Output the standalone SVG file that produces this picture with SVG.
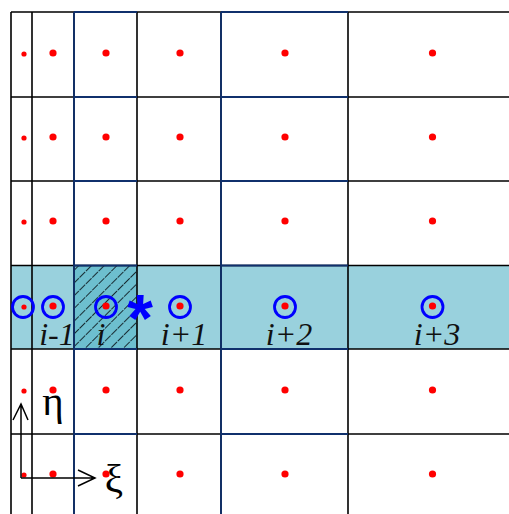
<svg xmlns="http://www.w3.org/2000/svg" width="509" height="514" viewBox="0 0 509 514">
<style>
.g{stroke:#000;stroke-width:1.6;fill:none}
.n{stroke:#10306c;stroke-width:1.8;fill:none}
.d{fill:#ff0000}
.c{fill:none;stroke:#0000ff;stroke-width:2.8}
.lbl{font-family:"Liberation Serif",serif;font-style:italic;font-size:32px;fill:#111;text-anchor:middle}
.gr{font-family:"Liberation Serif",serif;font-size:41px;fill:#000;text-anchor:middle}
.ax{stroke:#000;stroke-width:1.5;fill:none}
</style>
<defs>
<pattern id="hatch" patternUnits="userSpaceOnUse" width="9" height="9" patternTransform="rotate(45)">
<line x1="0" y1="0" x2="0" y2="9" stroke="#0a1418" stroke-width="1.7" stroke-dasharray="5 1"/>
</pattern>
</defs>
<rect width="509" height="514" fill="#fff"/>
<g id="band">
<rect x="11" y="265.5" width="498" height="83.5" fill="#99d1dd"/>
</g>
<g id="hatched-cell">
<rect x="74" y="265.5" width="63" height="83.5" fill="#6dbfcf"/>
<rect x="74" y="265.5" width="63" height="83.5" fill="url(#hatch)"/>
</g>
<g id="grid">
<path class="g" d="M11 12V514M32 12V514M74 12V514M137 12V514M221 12V514M348 12V514"/>
<path class="g" d="M11 12H509M11 97H509M11 181H509M11 265.5H509M11 349H509M11 434H509"/>
<path class="n" d="M74 12V514M221 12V514"/>
<path class="n" d="M74 12H137M221 12H348M74 97H137M221 97H348M74 181H137M221 181H348M74 265.5H137M221 265.5H348M74 349H137M221 349H348M74 434H137M221 434H348"/>
</g>
<g id="cell-centers">
<circle class="d" cx="24" cy="54" r="2.6"/><circle class="d" cx="53" cy="53" r="3.6"/><circle class="d" cx="106" cy="53" r="3.6"/><circle class="d" cx="180" cy="53" r="3.6"/><circle class="d" cx="285" cy="53" r="3.6"/><circle class="d" cx="432.5" cy="53" r="3.6"/>
<circle class="d" cx="24" cy="138" r="2.6"/><circle class="d" cx="53" cy="137" r="3.6"/><circle class="d" cx="106" cy="137" r="3.6"/><circle class="d" cx="180" cy="137" r="3.6"/><circle class="d" cx="285" cy="137" r="3.6"/><circle class="d" cx="432.5" cy="137" r="3.6"/>
<circle class="d" cx="24" cy="222" r="2.6"/><circle class="d" cx="53" cy="221" r="3.6"/><circle class="d" cx="106" cy="221" r="3.6"/><circle class="d" cx="180" cy="221" r="3.6"/><circle class="d" cx="285" cy="221" r="3.6"/><circle class="d" cx="432.5" cy="221" r="3.6"/>
<circle class="d" cx="24" cy="307" r="2.6"/><circle class="d" cx="53" cy="306" r="3.6"/><circle class="d" cx="106" cy="306" r="3.6"/><circle class="d" cx="180" cy="306" r="3.6"/><circle class="d" cx="285" cy="306" r="3.6"/><circle class="d" cx="432.5" cy="306" r="3.6"/>
<circle class="d" cx="24" cy="391" r="2.6"/><circle class="d" cx="53" cy="390" r="3.6"/><circle class="d" cx="106" cy="390" r="3.6"/><circle class="d" cx="180" cy="390" r="3.6"/><circle class="d" cx="285" cy="390" r="3.6"/><circle class="d" cx="432.5" cy="390" r="3.6"/>
<circle class="d" cx="24" cy="475" r="2.6"/><circle class="d" cx="53" cy="474" r="3.6"/><circle class="d" cx="106" cy="474" r="3.6"/><circle class="d" cx="180" cy="474" r="3.6"/><circle class="d" cx="285" cy="474" r="3.6"/><circle class="d" cx="432.5" cy="474" r="3.6"/>
</g>
<g id="stencil">
<circle class="c" cx="23" cy="307" r="10.5"/>
<circle class="c" cx="53" cy="307" r="10.5"/>
<circle class="c" cx="106" cy="307" r="10.5"/>
<circle class="c" cx="180" cy="307" r="10.5"/>
<circle class="c" cx="285" cy="307" r="10.5"/>
<circle class="c" cx="432.5" cy="307" r="10.5"/>
<text x="140" y="341" font-family="Liberation Sans,sans-serif" font-weight="bold" font-size="66" fill="#0000ff" text-anchor="middle">*</text>
</g>
<g id="labels">
<text class="lbl" x="57" y="345">i-1</text>
<text class="lbl" x="101" y="345">i</text>
<text class="lbl" x="184" y="345">i+1</text>
<text class="lbl" x="289" y="345">i+2</text>
<text class="lbl" x="437" y="345">i+3</text>
</g>
<g id="axes">
<path class="ax" d="M21 478V405M13 420L21 404L28 420"/>
<path class="ax" d="M21 478H95M78 470L95 478L78 486"/>
<text class="gr" x="53" y="415">η</text>
<text class="gr" x="114" y="492">ξ</text>
</g>
</svg>
